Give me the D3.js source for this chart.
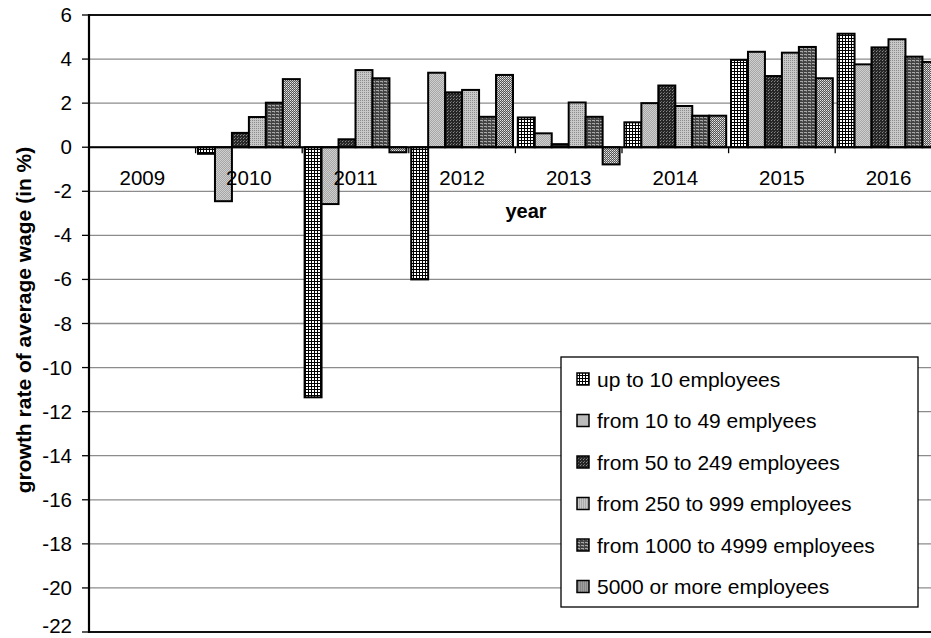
<!DOCTYPE html>
<html>
<head>
<meta charset="utf-8">
<script src="https://cdn.jsdelivr.net/npm/d3@7"></script>
<style>
  html, body { margin: 0; padding: 0; background: #fff; }
  svg { display: block; font-family: "Liberation Sans", Arial, sans-serif; }
</style>
</head>
<body>
<svg id="chart" width="931" height="638"></svg>
<script>
// Years on the category axis
const years = ["2009", "2010", "2011", "2012", "2013", "2014", "2015", "2016"];

// Enterprise size classes
const seriesNames = [
  "up to 10 employees",
  "from 10 to 49 emplyees",
  "from 50 to 249 employees",
  "from 250 to 999 employees",
  "from 1000 to 4999 employees",
  "5000 or more employees"
];

// Growth rate of average wage (%), one value per year (null = no data)
const upTo10      = [null, -0.3, -11.35, -6.0,  1.35, 1.13, 3.96, 5.15];
const from10to49  = [null, -2.45, -2.58,  3.38, 0.63, 2.0,  4.33, 3.76];
const from50to249 = [null,  0.65,  0.36,  2.49, 0.14, 2.8,  3.23, 4.53];
const from250to999 = [null, 1.37,  3.5,   2.6,  2.03, 1.87, 4.29, 4.9];
const from1000to4999 = [null, 2.02, 3.13, 1.38, 1.38, 1.43, 4.55, 4.11];
const over5000    = [null,  3.09, -0.23,  3.28, -0.78, 1.43, 3.13, 3.87];

const seriesValues = [upTo10, from10to49, from50to249, from250to999, from1000to4999, over5000];

// Y axis ticks
const yTicks = [6, 4, 2, 0, -2, -4, -6, -8, -10, -12, -14, -16, -18, -20, -22];

const svg = d3.select("#chart");

const plot = { left: 89, top: 15, bottom: 632, step: 106.6 };
plot.right = plot.left + plot.step * years.length;

// Fill patterns for each size class
const defs = svg.append("defs");
function pattern(id, w, h, bg, cells) {
  const p = defs.append("pattern").attr("id", id)
    .attr("patternUnits", "userSpaceOnUse").attr("width", w).attr("height", h);
  p.append("rect").attr("width", w).attr("height", h).attr("fill", bg);
  cells.forEach(c => p.append("rect").attr("x", c[0]).attr("y", c[1])
    .attr("width", c[2]).attr("height", c[3]).attr("fill", c[4]));
}
pattern("p0", 3, 3, "#000", [[0, 0, 2, 2, "#fff"]]);
pattern("p1", 2, 2, "#a6a6a6", [[0, 0, 1, 1, "#cfcfcf"], [1, 1, 1, 1, "#cfcfcf"]]);
pattern("p2", 3, 3, "#262626", [[0, 0, 1, 1, "#8a8a8a"], [1, 2, 1, 1, "#666"]]);
pattern("p3", 2, 2, "#c8c8c8", [[0, 0, 1, 1, "#8c8c8c"]]);
pattern("p4", 4, 3, "#444", [[0, 0, 3, 1, "#a8a8a8"], [2, 1, 1, 1, "#7a7a7a"]]);
pattern("p5", 2, 2, "#555", [[0, 0, 1, 1, "#e8e8e8"], [1, 1, 1, 1, "#b8b8b8"]]);
const fills = ["url(#p0)", "url(#p1)", "url(#p2)", "url(#p3)", "url(#p4)", "url(#p5)"];

// Scales
const y = d3.scaleLinear().domain([-22, 6]).range([plot.bottom, plot.top]);
const x0 = d3.scaleBand().domain(years).range([plot.left, plot.right])
  .paddingInner(0.045).paddingOuter(0.0225);
const x1 = d3.scaleBand().domain(d3.range(seriesNames.length))
  .range([0, x0.bandwidth()]).padding(0);

// Horizontal gridlines
svg.append("g").selectAll("line").data(yTicks).join("line")
  .attr("x1", plot.left).attr("x2", plot.right)
  .attr("y1", d => y(d)).attr("y2", d => y(d))
  .attr("stroke", "#8c8c8c").attr("stroke-width", 1.3);

// Plot frame top and bottom
svg.append("line").attr("x1", plot.left).attr("x2", plot.right)
  .attr("y1", plot.top).attr("y2", plot.top).attr("stroke", "#111").attr("stroke-width", 2);
svg.append("line").attr("x1", plot.left).attr("x2", plot.right)
  .attr("y1", plot.bottom).attr("y2", plot.bottom).attr("stroke", "#111").attr("stroke-width", 2);

// Bars
const bars = [];
years.forEach((yr, i) => {
  seriesValues.forEach((vals, s) => {
    if (vals[i] !== null) bars.push({ year: yr, s, v: vals[i] });
  });
});
svg.append("g").selectAll("rect").data(bars).join("rect")
  .attr("x", d => x0(d.year) + x1(d.s))
  .attr("width", x1.bandwidth())
  .attr("y", d => y(Math.max(0, d.v)))
  .attr("height", d => Math.abs(y(d.v) - y(0)))
  .attr("fill", d => fills[d.s])
  .attr("stroke", "#000").attr("stroke-width", 2);

// Category axis along zero
const xAxis = svg.append("g");
xAxis.append("line").attr("x1", plot.left).attr("x2", plot.right)
  .attr("y1", y(0)).attr("y2", y(0)).attr("stroke", "#000").attr("stroke-width", 2);
xAxis.selectAll("line.tick").data(d3.range(years.length + 1)).join("line")
  .attr("class", "tick")
  .attr("x1", i => plot.left + i * plot.step).attr("x2", i => plot.left + i * plot.step)
  .attr("y1", y(0)).attr("y2", y(0) + 6)
  .attr("stroke", "#000").attr("stroke-width", 1.3);
xAxis.selectAll("text").data(years).join("text")
  .attr("x", d => x0(d) + x0.bandwidth() / 2)
  .attr("y", 185)
  .attr("text-anchor", "middle")
  .attr("font-size", 20.5).attr("fill", "#000")
  .text(d => d);

// Value axis
const yAxis = svg.append("g");
yAxis.append("line").attr("x1", plot.left).attr("x2", plot.left)
  .attr("y1", plot.top - 1).attr("y2", plot.bottom + 1).attr("stroke", "#000").attr("stroke-width", 2.2);
yAxis.selectAll("line.tick").data(yTicks).join("line")
  .attr("class", "tick")
  .attr("x1", plot.left - 7).attr("x2", plot.left)
  .attr("y1", d => y(d)).attr("y2", d => y(d))
  .attr("stroke", "#000").attr("stroke-width", 1.3);
// Tick labels centred on their gridline; the lowest one is kept inside the page
yAxis.selectAll("text").data(yTicks).join("text")
  .attr("x", 72).attr("y", d => Math.min(y(d) + 7, 633))
  .attr("text-anchor", "end")
  .attr("font-size", 20.5).attr("fill", "#000")
  .text(d => d);

// Axis titles
svg.append("text")
  .attr("transform", "translate(31," + 320 + ") rotate(-90)")
  .attr("text-anchor", "middle")
  .attr("font-size", 21).attr("font-weight", "bold")
  .text("growth rate of average wage (in %)");
svg.append("text")
  .attr("x", 526).attr("y", 218)
  .attr("text-anchor", "middle")
  .attr("font-size", 20).attr("font-weight", "bold")
  .text("year");

// Legend
const legend = svg.append("g");
legend.append("rect")
  .attr("x", 561).attr("y", 357).attr("width", 357).attr("height", 250)
  .attr("fill", "#fff").attr("stroke", "#000").attr("stroke-width", 1.3);
const rows = legend.selectAll("g.row").data(seriesNames).join("g")
  .attr("class", "row")
  .attr("transform", (d, i) => "translate(577," + (379 + i * 41.5) + ")");
rows.append("rect")
  .attr("x", 0).attr("y", -6).attr("width", 12).attr("height", 12)
  .attr("fill", (d, i) => fills[i]).attr("stroke", "#000").attr("stroke-width", 1.5);
rows.append("text")
  .attr("x", 20).attr("y", 7.5)
  .attr("font-size", 21).attr("fill", "#000")
  .text(d => d);
</script>
</body>
</html>
